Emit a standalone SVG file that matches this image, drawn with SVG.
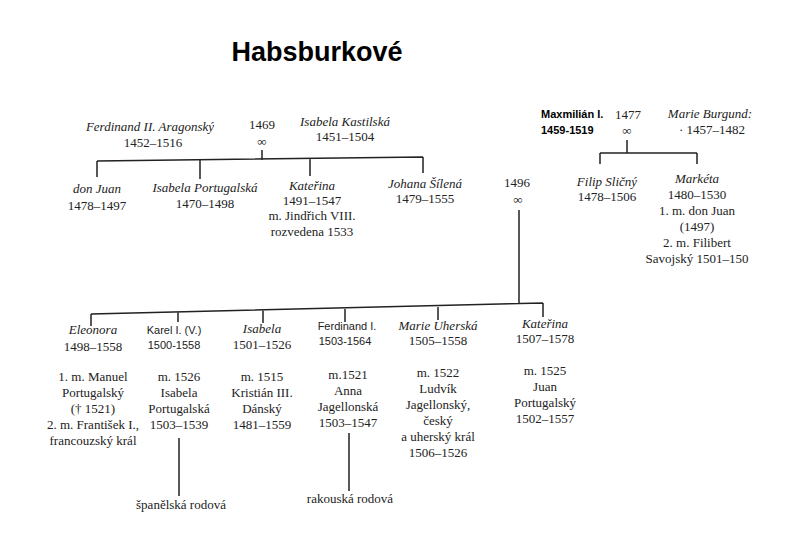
<svg xmlns="http://www.w3.org/2000/svg" width="800" height="560" viewBox="0 0 800 560">
<style>
text{font-family:"Liberation Serif",serif;font-size:13px;fill:#222;text-anchor:middle}
.i{font-style:italic}
.s{font-family:"Liberation Sans",sans-serif;font-size:11px}
.b{font-family:"Liberation Sans",sans-serif;font-size:11px;font-weight:bold;text-anchor:start;fill:#000}
.t{font-family:"Liberation Sans",sans-serif;font-size:27px;font-weight:bold;fill:#000}
.l{stroke:#222;stroke-width:1.5;fill:none}
</style>
<rect width="800" height="560" fill="#fff"/>
<text class="t" x="317" y="61">Habsburkové</text>
<g id="connectors">
<path class="l" d="M262,150V160M97,161L423,157M97,161V177M200,160V179M310,158V176M423,157V173"/>
<path class="l" d="M519,210V304M91,314L543,303M91,314V326M178,312V322M263,310V323M345,309V322M438,307V320M543,303V317"/>
<path class="l" d="M179,438V496M349,433V491"/>
<path class="l" d="M627,140V153M600,153H697M600,153V164M697,153V164"/>
</g>
<g id="ferdinand2"><text class="i" x="150" y="131">Ferdinand II. Aragonský</text><text x="153" y="147">1452–1516</text></g>
<g id="m1469"><text x="262" y="129">1469</text><text x="262" y="146">∞</text></g>
<g id="isabelaK"><text class="i" x="345" y="126">Isabela Kastilská</text><text x="345" y="141">1451–1504</text></g>
<g id="donjuan"><text class="i" x="97" y="193">don Juan</text><text x="97" y="210">1478–1497</text></g>
<g id="isabelaP"><text class="i" x="205" y="192">Isabela Portugalská</text><text x="205" y="208">1470–1498</text></g>
<g id="katerina1"><text class="i" x="312" y="190">Kateřina</text><text x="312" y="205">1491–1547</text><text x="312" y="220">m. Jindřich VIII.</text><text x="312" y="236">rozvedena 1533</text></g>
<g id="johana"><text class="i" x="425" y="188">Johana Šílená</text><text x="425" y="203">1479–1555</text></g>
<g id="m1496"><text x="517" y="187">1496</text><text x="518" y="204">∞</text></g>
<g id="max"><text class="b" x="541" y="118">Maxmilián I.</text><text class="b" x="541" y="134">1459-1519</text></g>
<g id="m1477"><text x="628" y="119">1477</text><text x="627" y="135">∞</text></g>
<g id="marieB"><text class="i" x="710" y="118">Marie Burgund:</text><text x="712" y="134">· 1457–1482</text></g>
<g id="filip"><text class="i" x="607" y="186">Filip Sličný</text><text x="607" y="201">1478–1506</text></g>
<g id="marketa"><text class="i" x="697" y="183">Markéta</text><text x="697" y="199">1480–1530</text><text x="697" y="215">1. m. don Juan</text><text x="697" y="231">(1497)</text><text x="697" y="247">2. m. Filibert</text><text x="697" y="263">Savojský 1501–150</text></g>
<g id="eleonora"><text class="i" x="93" y="334">Eleonora</text><text x="93" y="351">1498–1558</text><text x="93" y="381">1. m. Manuel</text><text x="93" y="397">Portugalský</text><text x="93" y="413">(† 1521)</text><text x="93" y="429">2. m. František I.,</text><text x="93" y="445">francouzský král</text></g>
<g id="karel"><text class="s" x="174" y="334">Karel I. (V.)</text><text class="s" x="174" y="349">1500-1558</text><text x="179" y="381">m. 1526</text><text x="179" y="397">Isabela</text><text x="179" y="413">Portugalská</text><text x="179" y="429">1503–1539</text></g>
<g id="isabela2"><text class="i" x="262" y="333">Isabela</text><text x="262" y="349">1501–1526</text><text x="262" y="381">m. 1515</text><text x="262" y="397">Kristián III.</text><text x="262" y="413">Dánský</text><text x="262" y="429">1481–1559</text></g>
<g id="ferdinand1"><text class="s" x="347" y="330">Ferdinand I.</text><text class="s" x="345" y="345">1503-1564</text><text x="348" y="379">m.1521</text><text x="348" y="395">Anna</text><text x="348" y="411">Jagellonská</text><text x="348" y="427">1503–1547</text></g>
<g id="marieU"><text class="i" x="438" y="330">Marie Uherská</text><text x="438" y="345">1505–1558</text><text x="438" y="377">m. 1522</text><text x="438" y="393">Ludvík</text><text x="438" y="409">Jagellonský,</text><text x="438" y="425">český</text><text x="438" y="441">a uherský král</text><text x="438" y="457">1506–1526</text></g>
<g id="katerina2"><text class="i" x="545" y="328">Kateřina</text><text x="545" y="343">1507–1578</text><text x="545" y="375">m. 1525</text><text x="545" y="391">Juan</text><text x="545" y="407">Portugalský</text><text x="545" y="423">1502–1557</text></g>
<g id="spanel"><text x="181" y="509">španělská rodová</text></g>
<g id="rakous"><text x="350" y="503">rakouská rodová</text></g>
</svg>
